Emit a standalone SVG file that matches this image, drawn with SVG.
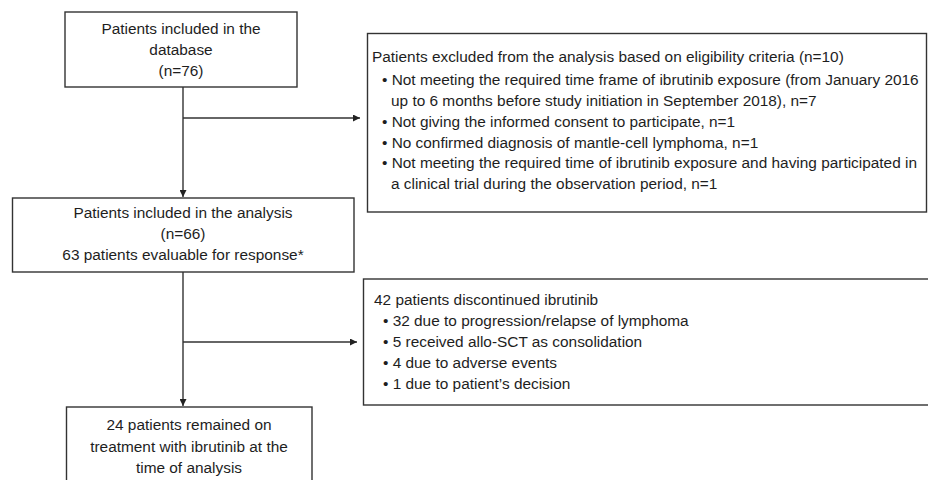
<svg xmlns="http://www.w3.org/2000/svg" width="928" height="480" viewBox="0 0 928 480">
<style>
.box{fill:#fff;stroke:#333;stroke-width:1.4}
.t{font-family:"Liberation Sans",Arial,sans-serif;font-size:15.4px;fill:#1e1e1e}
.c{text-anchor:middle}
.ln{fill:none;stroke:#333;stroke-width:1.4}
</style>
<defs>
<marker id="ah" viewBox="0 0 10 10" refX="10" refY="5" markerWidth="7" markerHeight="7" markerUnits="userSpaceOnUse" orient="auto">
<path d="M0,0 L10,5 L0,10 z" fill="#222"/>
</marker>
</defs>
<rect width="928" height="480" fill="#fff"/>
<g id="connectors">
<path class="ln" d="M183,87 V197" marker-end="url(#ah)"/>
<path class="ln" d="M183,118 H360" marker-end="url(#ah)"/>
<path class="ln" d="M183,272 V406" marker-end="url(#ah)"/>
<path class="ln" d="M183,342 H357" marker-end="url(#ah)"/>
</g>
<g id="database">
<rect class="box" x="65" y="12" width="232" height="75"/>
<text class="t c" x="181" y="34">Patients included in the</text>
<text class="t c" x="181" y="55">database</text>
<text class="t c" x="181" y="76">(n=76)</text>
</g>
<g id="excluded">
<rect class="box" x="367.5" y="33.5" width="559" height="178.5"/>
<text class="t" x="372" y="62">Patients excluded from the analysis based on eligibility criteria (n=10)</text>
<text class="t" x="382" y="85">• Not meeting the required time frame of ibrutinib exposure (from January 2016</text>
<text class="t" x="391" y="106">up to 6 months before study initiation in September 2018), n=7</text>
<text class="t" x="382" y="127">• Not giving the informed consent to participate, n=1</text>
<text class="t" x="382" y="148">• No confirmed diagnosis of mantle-cell lymphoma, n=1</text>
<text class="t" x="382" y="168">• Not meeting the required time of ibrutinib exposure and having participated in</text>
<text class="t" x="391" y="189">a clinical trial during the observation period, n=1</text>
</g>
<g id="analysis">
<rect class="box" x="12.5" y="198" width="341.5" height="74"/>
<text class="t c" x="183" y="218">Patients included in the analysis</text>
<text class="t c" x="183" y="239">(n=66)</text>
<text class="t c" x="183" y="260">63 patients evaluable for response*</text>
</g>
<g id="discontinued">
<rect class="box" x="363.5" y="279" width="570" height="126"/>
<text class="t" x="374" y="305">42 patients discontinued ibrutinib</text>
<text class="t" x="383" y="326">• 32 due to progression/relapse of lymphoma</text>
<text class="t" x="383" y="347">• 5 received allo-SCT as consolidation</text>
<text class="t" x="383" y="368">• 4 due to adverse events</text>
<text class="t" x="383" y="389">• 1 due to patient’s decision</text>
</g>
<g id="remained">
<rect class="box" x="66.5" y="407" width="245.5" height="80"/>
<text class="t c" x="189" y="430">24 patients remained on</text>
<text class="t c" x="189" y="452">treatment with ibrutinib at the</text>
<text class="t c" x="189" y="473">time of analysis</text>
</g>
</svg>
